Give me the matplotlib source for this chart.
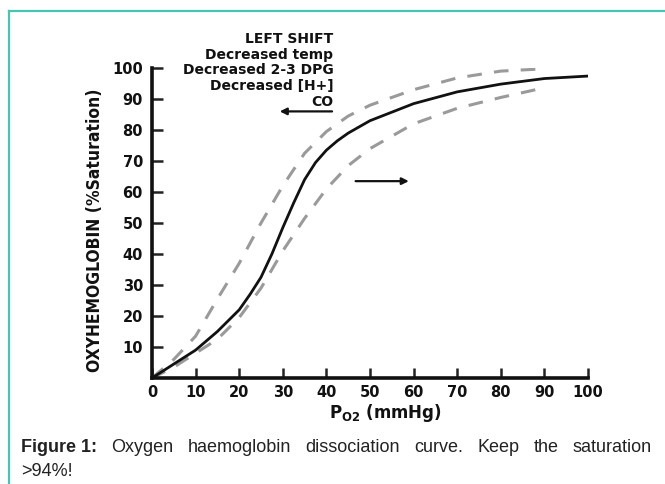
import matplotlib
matplotlib.use("Agg")
import matplotlib.pyplot as plt
from matplotlib.lines import Line2D

# curve values (PO2 in mmHg, saturation in %)
po2 = [0, 5, 10, 15, 20, 22.5, 25, 27.5, 30, 32.5, 35, 37.5, 40, 42.5, 45, 50, 60, 70, 80, 90, 100]
sat_normal = [0, 4.5, 9, 15, 22, 27, 32.5, 40, 48.5, 56.5, 64, 69.5, 73.5, 76.5, 79, 83, 88.5, 92.3, 94.8, 96.6, 97.4]

po2_left = [0, 5, 10, 15, 20, 25, 30, 35, 40, 45, 50, 60, 70, 80, 88]
sat_left = [0, 6, 13.5, 25.5, 37, 50, 62, 72.5, 79.5, 84.5, 88, 93, 96.8, 99, 99.6]

po2_right = [0, 5, 10, 15, 20, 25, 30, 35, 40, 45, 50, 60, 70, 80, 88]
sat_right = [0, 3.5, 8, 12.5, 19.5, 29, 41, 51.5, 61, 68.5, 74, 82, 87, 90.5, 93]

xticks = [0, 10, 20, 30, 40, 50, 60, 70, 80, 90, 100]
yticks = [10, 20, 30, 40, 50, 60, 70, 80, 90, 100]

shift_text = "LEFT SHIFT\nDecreased temp\nDecreased 2-3 DPG\nDecreased [H+]\nCO"
caption_words = ["Oxygen", "haemoglobin", "dissociation", "curve.", "Keep", "the", "saturation"]

W, H = 665, 484
fig = plt.figure(figsize=(W / 100, H / 100), dpi=100)

# teal frame lines (top and left)
teal = "#43c6b2"
fig.add_artist(Line2D([9 / W, 1], [1 - 11 / H, 1 - 11 / H], color=teal, lw=1.6))
fig.add_artist(Line2D([9 / W, 9 / W], [0, 1 - 11 / H], color=teal, lw=1.6))

ax = fig.add_axes([152 / W, (H - 378) / H, 436 / W, 310 / H])
ax.plot(po2_left, sat_left, color="#9a9a9a", lw=2.2, dashes=(4.8, 4.0), solid_capstyle="butt")
ax.plot(po2_right, sat_right, color="#9a9a9a", lw=2.2, dashes=(4.8, 4.0), solid_capstyle="butt")
ax.plot(po2, sat_normal, color="#111111", lw=2.0)

ax.set_xlim(0, 100)
ax.set_ylim(0, 100)
for s in ["top", "right"]:
    ax.spines[s].set_visible(False)
for s in ["left", "bottom"]:
    ax.spines[s].set_linewidth(2.6)
    ax.spines[s].set_color("#111111")

ax.set_xticks(xticks)
ax.set_yticks(yticks)
ax.tick_params(axis="both", direction="in", width=1.8, color="#222222",
               labelsize=10.5, labelcolor="#111111")
ax.tick_params(axis="y", length=8, pad=6.5)
ax.tick_params(axis="x", length=7, pad=5)
for lab in ax.get_xticklabels() + ax.get_yticklabels():
    lab.set_fontweight("bold")

ax.set_xlabel(r"P$_{\mathbf{O2}}$ (mmHg)", fontsize=12, fontweight="bold",
              color="#111111")
ax.xaxis.set_label_coords((385 - 152) / 436, -(402 - 378) / 310)
ax.set_ylabel("OXYHEMOGLOBIN (%Saturation)", fontsize=12.5, fontweight="bold",
              fontstretch="condensed", color="#111111")
ax.yaxis.set_label_coords(-(152 - 104) / 436, (378 - 230) / 310)

ax.text(41.6, 111.6, shift_text, ha="right", va="top", multialignment="right",
        fontsize=10, fontweight="bold", color="#111111", linespacing=1.15,
        clip_on=False)

ax.annotate("", xy=(29.3, 86), xytext=(41.3, 86),
            arrowprops=dict(arrowstyle="-|>", color="#111111", lw=1.6, mutation_scale=10,
                            shrinkA=0, shrinkB=0))
ax.annotate("", xy=(58.9, 63.5), xytext=(46.7, 63.5),
            arrowprops=dict(arrowstyle="-|>", color="#111111", lw=1.6, mutation_scale=10,
                            shrinkA=0, shrinkB=0))

# caption, first line justified between left and right margins
cap_font = dict(family=["Liberation Sans", "DejaVu Sans"], fontsize=13, color="#222222")
y1 = 1 - 448 / H
items = [fig.text(0, y1, "Figure 1:", fontweight="bold", va="center", **cap_font)]
for w in caption_words:
    items.append(fig.text(0, y1, w, va="center", **cap_font))
fig.canvas.draw()
r = fig.canvas.get_renderer()
widths = [t.get_window_extent(r).width for t in items]
left, right = 21, 652
gap = (right - left - sum(widths)) / (len(items) - 1)
x = left
for t, wd in zip(items, widths):
    t.set_x(x / W)
    x += wd + gap
fig.text(left / W, 1 - 471 / H, ">94%!", va="center", **cap_font)

fig.savefig("out.png", dpi=100)
